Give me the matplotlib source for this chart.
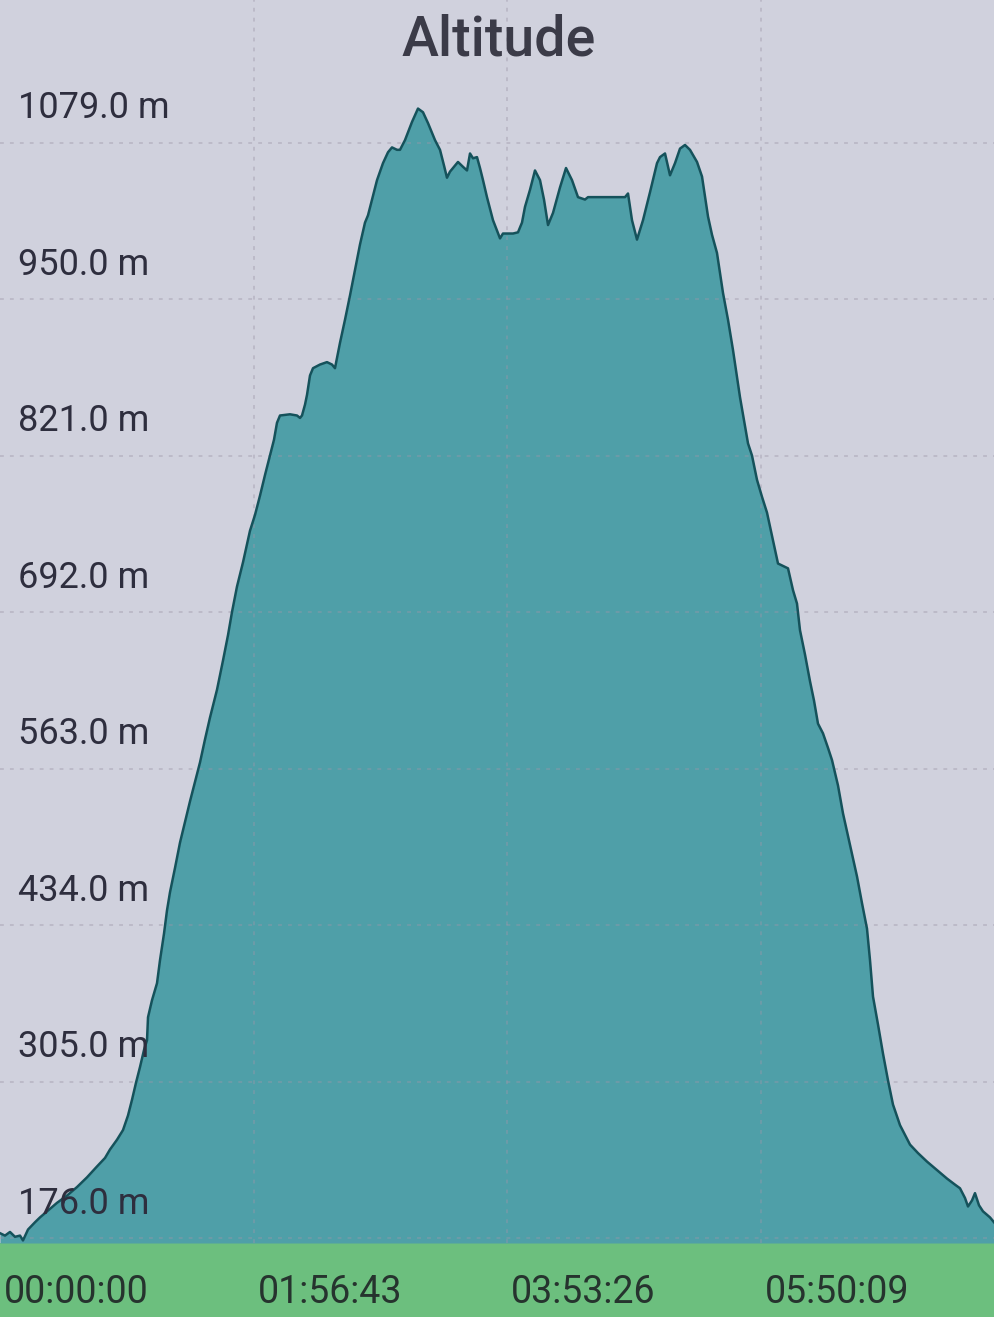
import matplotlib.pyplot as plt
from matplotlib.patches import Rectangle
import matplotlib.transforms as mtransforms

# elapsed time (s) and altitude (m)
time_s = [0, 138, 276, 414, 553, 635, 774, 967, 1105, 1381, 1575, 1851, 2127, 2403,
          2680, 2901, 3039, 3232, 3398, 3536, 3647, 3757, 3868, 3978, 4061, 4089,
          4199, 4337, 4420, 4531, 4613, 4696, 4834, 4973, 5111, 5249, 5387, 5525,
          5663, 5801, 5995, 6160, 6299, 6409, 6547, 6713, 6906, 7044, 7183, 7321,
          7459, 7569, 7652, 7735, 8011, 8205, 8288, 8343, 8426, 8481, 8564, 8647,
          8840, 9033, 9172, 9254, 9393, 9531, 9669, 9807, 9945, 10083, 10166,
          10277, 10415, 10580, 10719, 10829, 10967, 11050, 11188, 11382, 11547,
          11685, 11824, 12017, 12155, 12266, 12348, 12431, 12652, 12790, 12901,
          12984, 13067, 13177, 13260, 13343, 13453, 13619, 13813, 13895, 14172,
          14310, 14420, 14503, 14641, 14779, 14918, 15028, 15139, 15277, 15470,
          15636, 15802, 15967, 16161, 16244, 16575, 16907, 17266, 17349, 17459,
          17597, 17763, 17956, 18150, 18233, 18371, 18509, 18647, 18785, 18923,
          19061, 19255, 19393, 19559, 19669, 19807, 19973, 20111, 20249, 20443,
          20664, 20774, 20912, 21050, 21188, 21354, 21492, 21630, 21769, 21907,
          22017, 22100, 22238, 22376, 22487, 22597, 22735, 22874, 22984, 23150,
          23288, 23481, 23675, 23813, 23951, 24034, 24117, 24255, 24393, 24531,
          24669, 24863, 25139, 25360, 25608, 25885, 26161, 26382, 26520, 26658,
          26741, 26852, 26934, 27045, 27155, 27349, 27487]
altitude_m = [180, 178, 181, 177, 178, 174, 183, 189, 193, 200, 205, 211, 218, 226,
              235, 242, 249, 257, 265, 277, 290, 304, 317, 331, 339, 358,
              372, 386, 405, 427, 446, 461, 481, 502, 519, 536, 552, 568,
              587, 605, 628, 652, 673, 692, 713, 733, 759, 772, 788, 805,
              821, 834, 848, 854, 855, 854, 852, 854, 863, 871, 887, 893,
              896, 898, 896, 893, 914, 933, 953, 974, 995, 1013, 1019,
              1032, 1048, 1062, 1071, 1075, 1073, 1073, 1081, 1096, 1107,
              1104, 1095, 1081, 1073, 1060, 1050, 1055, 1063, 1059, 1056,
              1070, 1066, 1067, 1058, 1048, 1034, 1015, 1000, 1004, 1004,
              1005, 1013, 1026, 1040, 1056, 1048, 1032, 1011, 1021, 1042,
              1058, 1048, 1034, 1032, 1034, 1034, 1034, 1034, 1037, 1015,
              999, 1015, 1038, 1062, 1067, 1070, 1052, 1062, 1074, 1077,
              1073, 1063, 1051, 1018, 1003, 988, 955, 933, 908, 869,
              831, 821, 801, 787, 774, 751, 732, 730, 728, 710,
              699, 677, 657, 635, 619, 600, 592, 580, 570, 549,
              526, 500, 474, 452, 431, 405, 375, 352, 328, 306,
              286, 269, 253, 246, 239, 232, 225, 220, 217, 209,
              202, 207, 213, 203, 198, 193, 188]

y_ticks = [176, 305, 434, 563, 692, 821, 950, 1079]
y_labels = ["176.0 m", "305.0 m", "434.0 m", "563.0 m", "692.0 m", "821.0 m", "950.0 m", "1079.0 m"]
x_ticks = [0, 7003, 14006, 21009]
x_labels = ["00:00:00", "01:56:43", "03:53:26", "05:50:09"]

bg = "#d0d1dd"
fill_col = "#4f9fa8"
line_col = "#15525b"
green = "#6cbf7e"
text_col = "#2e2e3e"

plt.rcParams['font.family'] = ['Roboto', 'DejaVu Sans']

fig = plt.figure(figsize=(9.95, 13.17), dpi=100, facecolor=bg)
H = 1317

# green x-axis strip, drawn first so the labels land on top of it
fig.patches.append(Rectangle((0, 0), 1, 74 / H, transform=fig.transFigure,
                             facecolor=green, edgecolor="none", zorder=-1))

ax = fig.add_axes([0, 74 / H, 1, 1243 / H])
ax.set_facecolor(bg)
ax.set_xlim(0, 27487)
ax.set_ylim(171.9, 1196.5)

ax.fill_between(time_s, altitude_m, 171.9, color=fill_col, lw=0, zorder=2)
ax.plot(time_s, altitude_m, color=line_col, lw=1.8, zorder=4)

# dashed grid, faintly visible through the fill
for v in y_ticks:
    ax.axhline(v, color="#9d97a8", lw=1.1, ls=(0, (2.5, 4)), alpha=0.5, zorder=3)
for t in x_ticks[1:]:
    ax.axvline(t, color="#9d97a8", lw=1.1, ls=(0, (2.5, 4)), alpha=0.5, zorder=3)

ax.set_xticks([])
ax.set_yticks([])
for s in ax.spines.values():
    s.set_visible(False)

# y labels sit above their grid line, inside the chart
blend_y = mtransforms.blended_transform_factory(ax.transAxes, ax.transData)
for v, lab in zip(y_ticks, y_labels):
    ax.text(0.018, v + 20, lab, transform=blend_y, fontsize=26,
            color=text_col, va="baseline", ha="left", zorder=5)

blend_x = mtransforms.blended_transform_factory(ax.transData, fig.transFigure)
for t, lab in zip(x_ticks, x_labels):
    fig.text(t + 120, 1 - 1303 / H, lab, transform=blend_x, fontsize=27,
             color="#26332e", va="baseline", ha="left", zorder=5)

fig.text(0.501, 1 - 55 / H, "Altitude", ha="center", va="baseline",
         fontsize=40, fontweight="medium", color="#3b3b48")

plt.savefig("out.png", dpi=100, facecolor=bg)
